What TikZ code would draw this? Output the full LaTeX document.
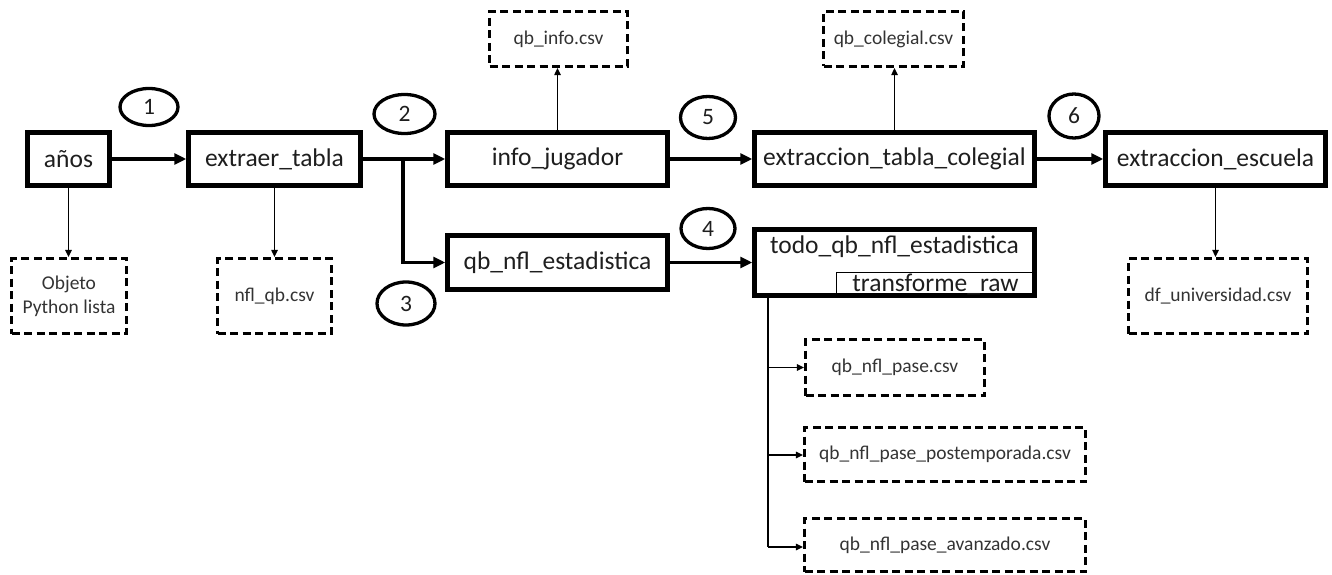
\documentclass[tikz,border=0pt]{standalone}
\usepackage{fontspec}
\setmainfont{Carlito}
\usetikzlibrary{shapes.geometric,arrows.meta}
\definecolor{ink}{HTML}{1E1E1E}
\definecolor{soft}{HTML}{333333}
\begin{document}
\begin{tikzpicture}[x=1pt,y=-1pt,
  proc/.style={draw=black, line width=4.5pt, rectangle, inner sep=0pt, text=ink,
    font=\fontsize{25.5}{28}\selectfont},
  filebox/.style={draw=black, line width=3.2pt, dash pattern=on 8pt off 4.5pt, rectangle,
    inner sep=0pt, text=soft, align=center, font=\fontsize{19.5}{24}\selectfont},
  stepnum/.style={draw=black, line width=3.3pt, ellipse, inner sep=0pt, text=ink,
    font=\fontsize{23.5}{25}\selectfont},
  flow/.style={line width=3.6pt, -{Triangle[length=12pt,width=11pt]}},
  fileout/.style={line width=1.2pt, -{Triangle[length=7pt,width=6.5pt]}},
]
\useasboundingbox (0,0) rectangle (1332,575);

% processing steps
\node[proc, minimum width=82pt, minimum height=53pt] (anos) at (68.5,159) {años};
\node[proc, minimum width=172pt, minimum height=53pt] (extraer) at (274.5,159) {extraer\_tabla};
\node[proc, minimum width=220pt, minimum height=53pt] (info) at (557.5,159) {info\_jugador};
\node[proc, minimum width=220pt, minimum height=54pt] (qbnfl) at (557.5,262.5) {qb\_nfl\_estadistica};
\node[proc, minimum width=280pt, minimum height=53pt] (colegial) at (894.5,159) {extraccion\_tabla\_colegial};
\node[proc, minimum width=220pt, minimum height=53pt] (escuela) at (1215.5,159) {extraccion\_escuela};

% combined step with its sub-step
\node[proc, minimum width=280pt, minimum height=66pt] (todo) at (894.5,262.5) {};
\node[font=\fontsize{25.5}{28}\selectfont, text=ink, inner sep=0pt] (todolbl) at (894.5,247) {todo\_qb\_nfl\_estadistica};
\node[draw=black, line width=1.2pt, rectangle, inner sep=0pt, minimum width=198pt, minimum height=24pt,
  font=\fontsize{25.5}{28}\selectfont, text=ink] (raw) at (935.5,284.5) {transforme\_raw};

% output files
\node[filebox, minimum width=115pt, minimum height=75pt] (lista) at (69,296) {Objeto\\Python lista};
\node[filebox, minimum width=114pt, minimum height=75pt] (nflqb) at (274.5,296) {nfl\_qb.csv};
\node[filebox, minimum width=138pt, minimum height=55pt] (qbinfo) at (558.5,39) {qb\_info.csv};
\node[filebox, minimum width=140pt, minimum height=55pt] (qbcol) at (893.5,39) {qb\_colegial.csv};
\node[filebox, minimum width=179pt, minimum height=75pt] (dfuni) at (1218,296) {df\_universidad.csv};
\node[filebox, minimum width=179pt, minimum height=56pt] (pase) at (895,367.5) {qb\_nfl\_pase.csv};
\node[filebox, minimum width=281pt, minimum height=54pt] (post) at (945,454.5) {qb\_nfl\_pase\_postemporada.csv};
\node[filebox, minimum width=281pt, minimum height=53pt] (avz) at (945,545) {qb\_nfl\_pase\_avanzado.csv};

% step numbers
\node[stepnum, minimum width=58pt, minimum height=37pt] (n1) at (149,107) {1};
\node[stepnum, minimum width=61pt, minimum height=39pt] (n2) at (404.5,114) {2};
\node[stepnum, minimum width=58pt, minimum height=43pt] (n3) at (406,303.5) {3};
\node[stepnum, minimum width=54pt, minimum height=40pt] (n4) at (708,228.5) {4};
\node[stepnum, minimum width=55pt, minimum height=42pt] (n5) at (708,117.5) {5};
\node[stepnum, minimum width=50pt, minimum height=44pt] (n6) at (1074,116) {6};

% main flow
\coordinate (split) at (403,159);
\draw[flow] (anos) -- (extraer);
\draw[flow] (extraer) -- (info);
\draw[flow] (split) |- (qbnfl.west);
\draw[flow] (info) -- (colegial);
\draw[flow] (colegial) -- (escuela);
\draw[flow] (qbnfl) -- (todo.west |- qbnfl);

% file outputs
\draw[fileout] (anos.south) -- (anos.south |- lista.north);
\draw[fileout] (extraer.south) -- (extraer.south |- nflqb.north);
\draw[fileout] (info.north) -- (info.north |- qbinfo.south);
\draw[fileout] (colegial.north) -- (colegial.north |- qbcol.south);
\draw[fileout] (escuela.south) -- (escuela.south |- dfuni.north);

\coordinate (tap) at (768,297);
\coordinate (tapend) at (768,547);
\draw[line width=1.2pt] (tap) -- (tapend);
\draw[fileout] (tap |- pase.west) -- (pase.west);
\draw[fileout] (tap |- 0,455) -- (post.west |- 0,455);
\draw[fileout] (tapend) -- (avz.west |- tapend);
\end{tikzpicture}
\end{document}
